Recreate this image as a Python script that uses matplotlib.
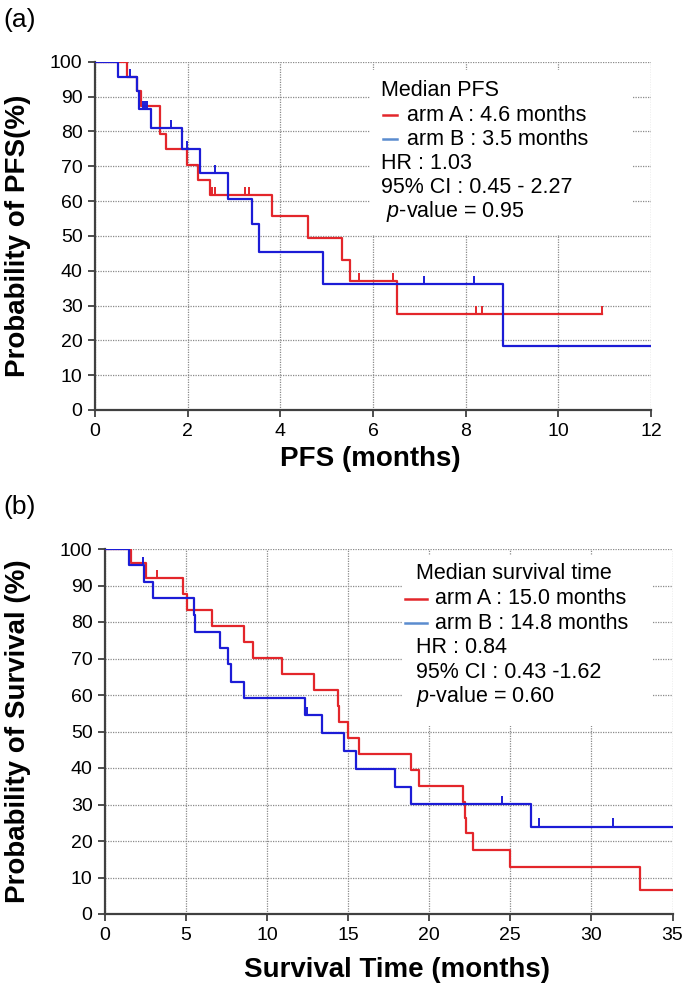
import numpy as np
import matplotlib
matplotlib.use('Agg')
import matplotlib.pyplot as plt
from matplotlib.patches import Rectangle

plt.rcParams['font.family'] = ['Liberation Sans', 'DejaVu Sans']
plt.rcParams['mathtext.fontset'] = 'custom'
plt.rcParams['mathtext.it'] = 'Liberation Sans:italic'
plt.rcParams['mathtext.rm'] = 'Liberation Sans'

# ---- (a) PFS data (months, %) ----
pfs_a_t = [0, 0.70, 0.91, 1.00, 1.40, 1.53, 1.98, 2.23, 2.49, 3.81, 4.60, 5.33, 5.50, 6.52, 10.95]
pfs_a_s = [100, 95.7, 91.5, 87.4, 79.3, 74.9, 70.4, 66.1, 61.8, 55.7, 49.5, 43.2, 37.1, 27.7, 27.7]
pfs_a_cens_t = [2.53, 2.59, 3.23, 3.32, 5.70, 6.43, 8.23, 8.36, 10.95]

pfs_b_t = [0, 0.50, 0.90, 0.95, 1.21, 1.87, 2.26, 2.86, 3.39, 3.53, 4.92, 8.81, 12.0]
pfs_b_s = [100, 95.5, 91.7, 86.4, 81.0, 74.8, 68.0, 60.5, 53.3, 45.3, 36.3, 18.3, 18.3]
pfs_b_cens_t = [0.75, 1.03, 1.08, 1.12, 1.65, 1.99, 2.60, 7.09, 8.19]

# ---- (b) OS data ----
os_a_t = [0, 1.59, 2.53, 4.80, 5.04, 6.59, 8.58, 9.12, 10.94, 12.90, 14.36, 14.46, 14.98, 15.66,
          18.89, 19.38, 22.08, 22.18, 22.27, 22.70, 24.96, 33.0, 35.0]
os_a_s = [100, 96.1, 92.0, 87.6, 83.3, 78.9, 74.4, 70.1, 65.8, 61.4, 57.0, 52.5, 48.3, 43.8,
          39.5, 35.2, 30.6, 26.4, 22.1, 17.5, 13.0, 6.6, 6.6]
os_a_cens_t = [3.19]

os_b_t = [0, 1.50, 2.41, 2.98, 5.51, 5.58, 7.10, 7.57, 7.78, 8.58, 12.35, 13.37, 14.77, 15.47,
          17.90, 18.89, 26.28, 35.0]
os_b_s = [100, 95.6, 91.0, 86.5, 81.9, 77.3, 73.0, 68.4, 63.6, 59.3, 54.5, 49.7, 44.7, 39.7,
          34.9, 30.1, 23.9, 23.9]
os_b_cens_t = [2.33, 12.45, 24.49, 26.79, 31.34]

pfs_text = ['Median PFS', 'arm A : 4.6 months', 'arm B : 3.5 months',
            'HR : 1.03', '95% CI : 0.45 - 2.27', ' $p$-value = 0.95']
os_text = ['Median survival time', 'arm A : 15.0 months', 'arm B : 14.8 months',
           'HR : 0.84', '95% CI : 0.43 -1.62', '$p$-value = 0.60']

RED = '#e3262b'
BLUE = '#1c1cd6'
LEG_RED = '#e3262b'
LEG_BLUE = '#5b8ccf'
SPINE = '#404040'


def surv_at(t_list, s_list, t):
    # value of the step function at time t
    idx = np.searchsorted(t_list, t, side='right') - 1
    return s_list[idx]


def km(ax, t, s, cens, color):
    ax.step(t, s, where='post', color=color, lw=1.6, zorder=4)
    cs = [surv_at(t, s, c) for c in cens]
    ax.vlines(cens, cs, np.array(cs) + 2.3, color=color, lw=1.4, zorder=4)


def style(ax, xmax, xstep):
    ax.set_xlim(0, xmax)
    ax.set_ylim(0, 100)
    ax.set_xticks(np.arange(0, xmax + 0.1, xstep))
    ax.set_yticks(np.arange(0, 101, 10))
    ax.grid(True, color='#8a8a8a', linestyle=(0, (1, 1)), lw=0.9, zorder=0)
    ax.set_axisbelow(True)
    for sp in ['top', 'right']:
        ax.spines[sp].set_visible(False)
    for sp in ['left', 'bottom']:
        ax.spines[sp].set_color(SPINE)
        ax.spines[sp].set_linewidth(1.6)
    ax.tick_params(direction='out', length=5, width=1.3, color=SPINE,
                   labelsize=14, pad=4)


def legend_box(ax, lines, box, x_head, x_txt, x_dash, ys):
    ax.add_patch(Rectangle((box[0], box[1]), box[2] - box[0], box[3] - box[1],
                           transform=ax.transAxes, facecolor='white', edgecolor='none',
                           zorder=2))
    for i, (txt, y) in enumerate(zip(lines, ys)):
        x = x_txt if i in (1, 2) else x_head
        ax.text(x, y, txt, transform=ax.transAxes, fontsize=15.5, va='center', ha='left',
                zorder=5)
    ax.plot(x_dash, [ys[1], ys[1]], transform=ax.transAxes, color=LEG_RED, lw=1.8, zorder=5)
    ax.plot(x_dash, [ys[2], ys[2]], transform=ax.transAxes, color=LEG_BLUE, lw=1.8, zorder=5)


fig = plt.figure(figsize=(6.85, 9.86), dpi=100)

# panel (a)
ax1 = fig.add_axes([95 / 685, 576 / 986, 556 / 685, 348.3 / 986])
km(ax1, pfs_a_t, pfs_a_s, pfs_a_cens_t, RED)
km(ax1, pfs_b_t, pfs_b_s, pfs_b_cens_t, BLUE)
style(ax1, 12, 2)
ax1.set_xlabel('PFS (months)', fontsize=20, fontweight='bold')
ax1.set_ylabel('Probability of PFS(%)', fontsize=20, fontweight='bold')
ax1.xaxis.set_label_coords(0.496, -0.103)
ax1.yaxis.set_label_coords(-0.115, 0.5)
legend_box(ax1, pfs_text, (0.495, 0.502, 0.968, 0.976), 0.514, 0.561, [0.518, 0.543],
           [0.916, 0.846, 0.778, 0.709, 0.639, 0.570])

# panel (b)
ax2 = fig.add_axes([105 / 685, 72 / 986, 567.5 / 685, 365 / 986])
km(ax2, os_a_t, os_a_s, os_a_cens_t, RED)
km(ax2, os_b_t, os_b_s, os_b_cens_t, BLUE)
style(ax2, 35, 5)
ax2.set_xlabel('Survival Time (months)', fontsize=20, fontweight='bold')
ax2.set_ylabel('Probability of Survival (%)', fontsize=20, fontweight='bold')
ax2.xaxis.set_label_coords(0.515, -0.118)
ax2.yaxis.set_label_coords(-0.130, 0.5)
legend_box(ax2, os_text, (0.525, 0.515, 0.966, 0.984), 0.548, 0.581, [0.529, 0.567],
           [0.934, 0.864, 0.797, 0.729, 0.663, 0.595])

fig.text(3 / 685, 1 - 20 / 986, '(a)', fontsize=19, va='center', ha='left')
fig.text(3 / 685, 1 - 507 / 986, '(b)', fontsize=19, va='center', ha='left')

fig.savefig('out.png', dpi=100)
